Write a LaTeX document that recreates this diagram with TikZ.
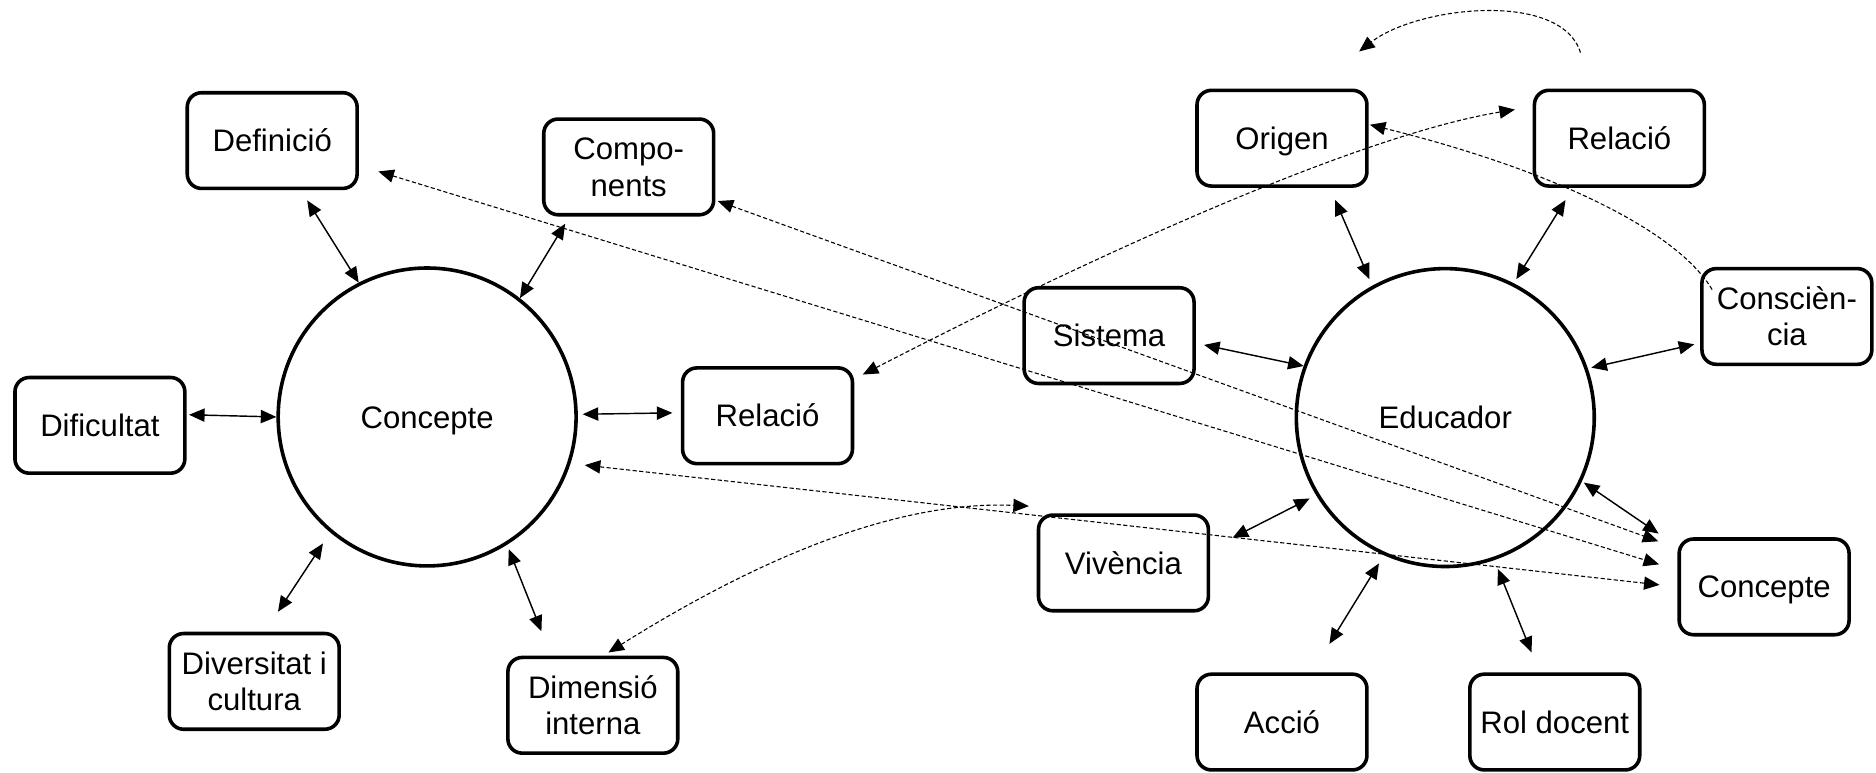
\documentclass[tikz,border=0pt]{standalone}
\usepackage{fontspec}
\setmainfont{Liberation Sans}
\usetikzlibrary{arrows.meta}
% one text line whose box is exactly the cap height, so caps sit centred
\newcommand\capline[1]{\rule{0pt}{18.6pt}\smash{#1}}
\begin{document}
\begin{tikzpicture}[x=1pt,y=-1pt,
  box/.style={draw, rounded corners=12pt, line width=3pt, minimum width=142pt,
    minimum height=80pt, align=center, inner sep=0pt,
    font=\fontsize{26}{30.5}\selectfont},
  hub/.style={draw, circle, line width=3pt, minimum size=249pt, inner sep=0pt,
    font=\fontsize{26}{30.5}\selectfont},
  head/.tip={Triangle[length=13pt,width=11pt]},
  link/.style={line width=1.2pt, head-head},
  dlink/.style={line width=0.9pt, dash pattern=on 3.5pt off 2pt, head-head},
  done/.style={line width=0.9pt, dash pattern=on 3.5pt off 2pt, -head}]

\useasboundingbox (0,0) rectangle (1568,646);

% left cluster
\node[hub] (cc) at (357,348.5) {\capline{Concepte}};
\node[box] (def)  at (227.5,117.5) {\capline{Definició}};
\node[box] (comp) at (525.5,139.5) {\capline{Compo-}\\\capline{nents}};
\node[box] (dif)  at (83.5,355.5)  {\capline{Dificultat}};
\node[box] (rell) at (641.5,347.5) {\capline{Relació}};
\node[box] (div)  at (212.5,569.5) {\capline{Diversitat i}\\\capline{cultura}};
\node[box] (dim)  at (495.5,589.5) {\capline{Dimensió}\\\capline{interna}};

% right cluster
\node[hub] (ed) at (1208,349) {\capline{Educador}};
\node[box] (ori)  at (1071.5,115.5) {\capline{Origen}};
\node[box] (relr) at (1353.5,115.5) {\capline{Relació}};
\node[box] (sis)  at (927,280.5)    {\capline{Sistema}};
\node[box] (con)  at (1493.5,264.5) {\capline{Conscièn-}\\\capline{cia}};
\node[box] (viv)  at (939,470.5)    {\capline{Vivència}};
\node[box] (cr)   at (1474.5,490.5) {\capline{Concepte}};
\node[box] (acc)  at (1071.5,603.5) {\capline{Acció}};
\node[box] (rol)  at (1299.5,603.5) {\capline{Rol docent}};

% solid links, left
\draw[link, shorten <=10pt] (def.-60) -- (cc.117);
\draw[link, shorten <=7pt] (comp.-140) -- (cc.52);
\draw[link, shorten <=2pt] (dif.7) -- (cc.180);
\draw[link, shorten <=7pt, shorten >=4pt] (rell.178) -- (cc.1);
\draw[link, shorten <=20pt, shorten >=11pt] (div.78) -- (cc.-130);
\draw[link, shorten <=22pt, shorten >=4pt] (dim.130) -- (cc.-58.5);

% solid links, right
\draw[link, shorten <=11pt, shorten >=6pt] (ori.-46) -- (ed.119);
\draw[link, shorten <=12pt, shorten >=4pt] (relr.-133) -- (ed.63);
\draw[link, shorten <=7pt] (sis.-5) -- (ed.160);
\draw[link, shorten <=5pt, shorten >=3pt] (con.-163) -- (ed.19.4);
\draw[link, shorten <=21pt, shorten >=6pt] (viv.9) -- (ed.-149.6);
\draw[link, shorten <=19pt, shorten >=2pt] (cr.155) -- (ed.-25);
\draw[link, shorten <=28pt, shorten >=8pt] (acc.59) -- (ed.-114);
\draw[link, shorten <=18pt, shorten >=8pt] (rol.107) -- (ed.-71);

% dashed cross links
\draw[dlink, shorten <=17pt, shorten >=16pt] (def.-16.6) -- (cr.169);
\draw[dlink, shorten <=2pt, shorten >=17pt] (comp.-21) -- (cr.156.4);
\draw[dlink, shorten <=12pt, shorten >=15pt] (cc.-18.8) -- (cr.180);
\draw[dlink, shorten <=8pt, shorten >=15pt]
  (rell.23.5) .. controls +(186,-96) and +(-151,25) .. (relr.160.6);

\coordinate (vivtip) at (860,423);
\draw[dlink, shorten <=5pt]
  (dim.78.6) .. controls +(130,-81.5) and +(-110,-5) .. (vivtip);

\coordinate (cstart) at ([shift={(10,19)}]con.north west);
\draw[done, shorten >=1pt]
  (cstart) .. controls +(-31,-52) and +(146,36) .. (ori.9);

% loose arc above the right cluster
\coordinate (arcR) at (1321,44);
\coordinate (arcL) at (1136,43);
\draw[done] (arcR) .. controls +(-16,-52) and +(49,-38) .. (arcL);
\end{tikzpicture}
\end{document}
